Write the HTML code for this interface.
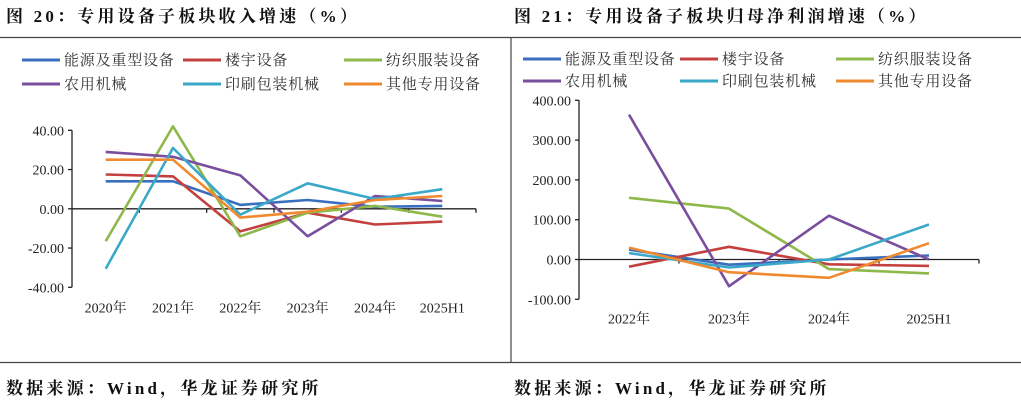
<!DOCTYPE html>
<html><head><meta charset="utf-8"><style>
body{margin:0;background:#fff;width:1021px;height:405px;overflow:hidden;font-family:"Liberation Serif","Noto Serif CJK SC",serif}
svg{position:absolute;left:0;top:0}
</style></head><body>
<svg id="s" width="1021" height="405" xmlns="http://www.w3.org/2000/svg">
<text x="6" y="22" font-size="17" font-weight="bold" letter-spacing="3.2" fill="#111" font-family="Liberation Serif, Noto Serif CJK SC, serif">图 20：专用设备子板块收入增速（%）</text>
<text x="514" y="22" font-size="17" font-weight="bold" letter-spacing="3.2" fill="#111" font-family="Liberation Serif, Noto Serif CJK SC, serif">图 21：专用设备子板块归母净利润增速（%）</text>
<line x1="0" y1="37.5" x2="1021" y2="37.5" stroke="#444" stroke-width="1.2"/>
<line x1="0" y1="362.5" x2="1021" y2="362.5" stroke="#444" stroke-width="1.2"/>
<line x1="511" y1="37.5" x2="511" y2="362.5" stroke="#444" stroke-width="1.2"/>
<text x="6" y="394" font-size="17" font-weight="bold" letter-spacing="3.2" fill="#111">数据来源：Wind，华龙证券研究所</text>
<text x="514" y="394" font-size="17" font-weight="bold" letter-spacing="3.2" fill="#111">数据来源：Wind，华龙证券研究所</text>
<g id="g1"></g>
<g id="g2"></g>
</svg>
<script>
const seriesNames=["能源及重型设备","楼宇设备","纺织服装设备","农用机械","印刷包装机械","其他专用设备"];
const colors=["#3a6fbf","#c44040","#8fb84a","#7a4e9e","#3aa9c9","#f08a30"];
const cats1=["2020年","2021年","2022年","2023年","2024年","2025H1"];
const ticks1=[40,20,0,-20,-40];
const energy1=[14,14,2,4.5,1,1.5];
const building1=[17.5,16.5,-11.5,-2,-8,-6.5];
const textile1=[-16.5,42,-14,-2,1.5,-4];
const agri1=[29,26.5,17,-14,6.5,4];
const print1=[-30.5,31,-3,13,5,10];
const other1=[25,25,-4.5,-1.5,4.5,6.5];
const cats2=["2022年","2023年","2024年","2025H1"];
const ticks2=[400,300,200,100,0,-100];
const energy2=[25,-13,0,10];
const building2=[-18,32,-12,-16];
const textile2=[155,128,-24,-35];
const agri2=[364,-67,110,0];
const print2=[16,-20,0,88];
const other2=[30,-32,-46,41];

const NS="http://www.w3.org/2000/svg";
function mk(p,t,a,txt){const e=document.createElementNS(NS,t);for(const k in a)e.setAttribute(k,a[k]);if(txt!==undefined)e.textContent=txt;p.appendChild(e);return e;}

function draw(g,cfg){
  const {cats,ticks,data,x0,x1,yTop,vTop,yBot,vBot,legX,legY,legRow,dx}=cfg;
  const ys=v=>yTop+(vTop-v)*(yBot-yTop)/(vTop-vBot);
  const n=cats.length,step=(x1-x0)/n;
  const xs=i=>x0+step*(i+0.5);
  seriesNames.forEach((nm,i)=>{
    const c=i%3,r=Math.floor(i/3);
    const lx=legX[c],ly=legY+r*legRow;
    const ln=mk(g,"line",{x1:lx,y1:ly,x2:lx+38,y2:ly,stroke:colors[i],"stroke-width":3});
    
    
    const t=mk(g,"text",{x:lx+42,y:ly+5,"font-size":15,"letter-spacing":0.8,fill:"#333","font-family":"Liberation Serif, Noto Serif CJK SC, serif"},nm);
    
    
  });
  const ya=mk(g,"line",{x1:x0,y1:ys(vTop),x2:x0,y2:ys(vBot),stroke:"#222","stroke-width":1.3});
  
  
  ticks.forEach(v=>{
    const tk=mk(g,"line",{x1:x0-4,y1:ys(v),x2:x0,y2:ys(v),stroke:"#222","stroke-width":1.3});
    
    
    const tl=mk(g,"text",{x:x0-8,y:ys(v)+5,"font-size":14,fill:"#222","text-anchor":"end"},v.toFixed(2));
    
    
  });
  const xa=mk(g,"line",{x1:x0,y1:ys(0),x2:x1,y2:ys(0),stroke:"#222","stroke-width":1.3});
  
  
  for(let i=1;i<=n;i++){
    const tk=mk(g,"line",{x1:x0+step*i,y1:ys(0),x2:x0+step*i,y2:ys(0)+4,stroke:"#222","stroke-width":1.3});
    
    
  }
  cats.forEach((c,i)=>{
    const tl=mk(g,"text",{x:xs(i),y:ys(vBot)+dx,"font-size":14,fill:"#222","text-anchor":"middle"},c);
    
    
  });
  data.forEach((arr,si)=>{
    const pts=arr.map((v,i)=>xs(i).toFixed(1)+","+ys(v).toFixed(1)).join(" ");
    const pl=mk(g,"polyline",{points:pts,fill:"none",stroke:colors[si],"stroke-width":2.6,"stroke-linejoin":"round"});
    
    
  });
}
draw(document.getElementById("g1"),{cats:cats1,ticks:ticks1,data:[energy1,building1,textile1,agri1,print1,other1],
  x0:72,x1:476,yTop:130.3,vTop:40,yBot:287.3,vBot:-40,legX:[22,183,344],legY:60,legRow:24,dx:25});
draw(document.getElementById("g2"),{cats:cats2,ticks:ticks2,data:[energy2,building2,textile2,agri2,print2,other2],
  x0:579,x1:979,yTop:100.3,vTop:400,yBot:299.3,vBot:-100,legX:[523,680,836],legY:59,legRow:22,dx:24});
</script>
</body></html>
